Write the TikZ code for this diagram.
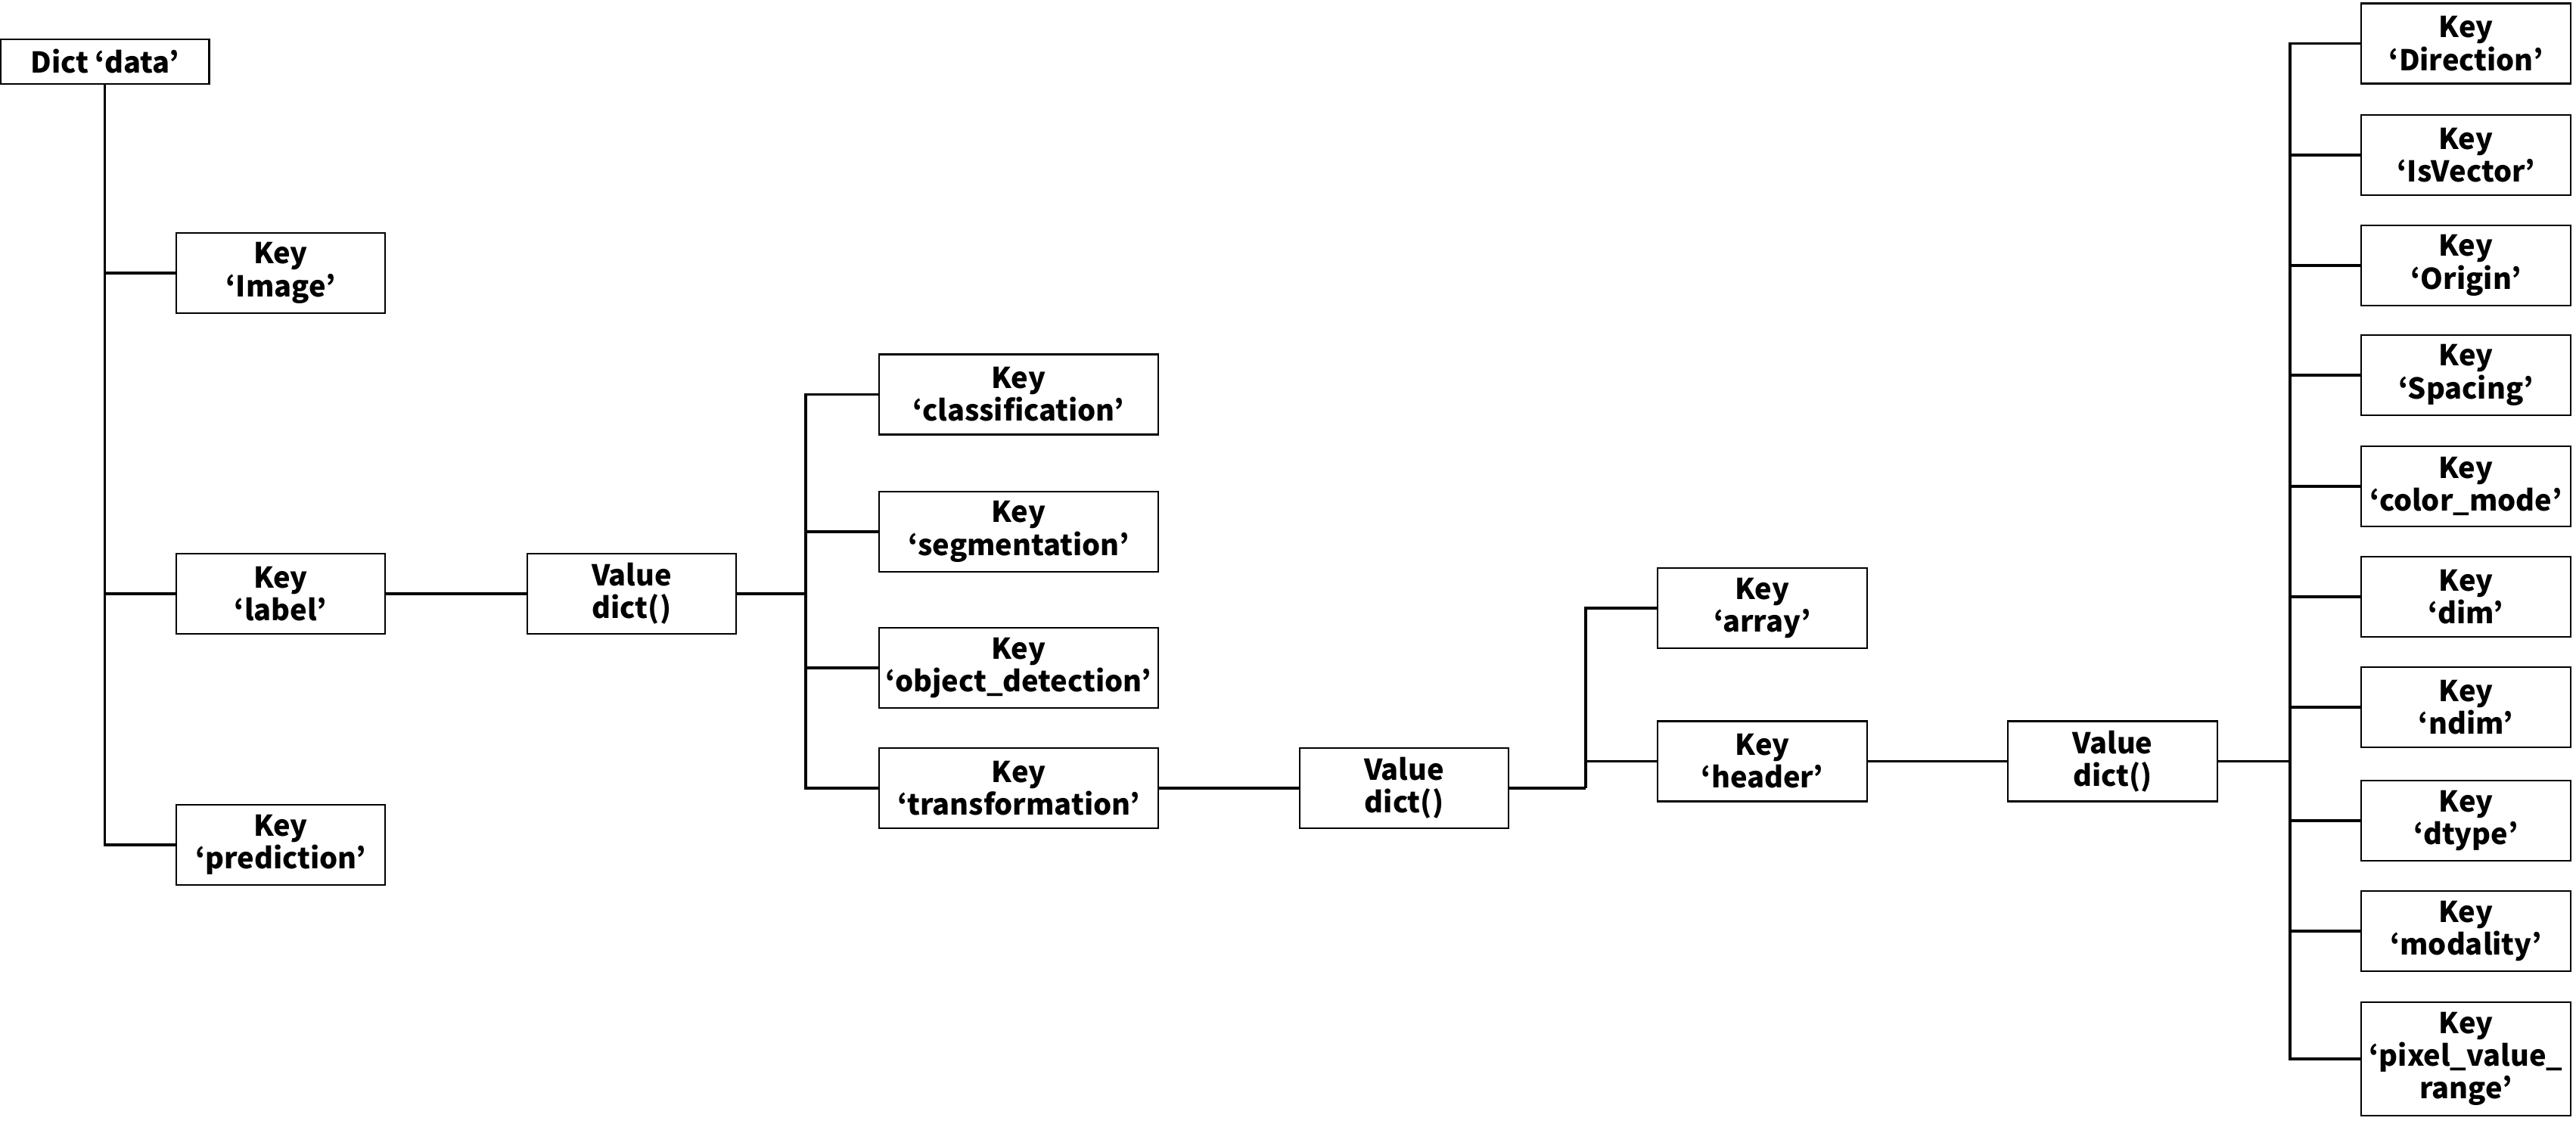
\documentclass[tikz,border=0pt]{standalone}
\usepackage{fontspec}
\setmainfont{Noto Sans CJK KR}
\begin{document}
\begin{tikzpicture}[x=1cm,y=1cm,
  box/.style={draw=black, line width=0.7pt, minimum width=2.76cm, minimum height=1.06cm,
     inner sep=0pt, align=center, font=\fontsize{10.8}{12.3}\selectfont\bfseries},
  link/.style={line width=0.95pt}]
\useasboundingbox (0,0) rectangle (34.05,-14.9);
% column 1
\node[box, minimum height=0.59cm] (data) at (1.385,-0.815) {Dict ‘data’};
\node[box] (image) at (3.71,-3.61) {Key\\‘Image’};
\node[box] (label) at (3.71,-7.85) {Key\\‘label’};
\node[box] (prediction) at (3.71,-11.17) {Key\\‘prediction’};
\node[box] (value1) at (8.35,-7.85) {Value\\dict()};
% column 2
\node[box, minimum width=3.69cm] (classification) at (13.465,-5.215) {Key\\‘classification’};
\node[box, minimum width=3.69cm] (segmentation) at (13.465,-7.03) {Key\\‘segmentation’};
\node[box, minimum width=3.69cm] (objdet) at (13.465,-8.83) {Key\\‘object\_detection’};
\node[box, minimum width=3.69cm] (transformation) at (13.465,-10.42) {Key\\‘transformation’};
\node[box] (value2) at (18.56,-10.42) {Value\\dict()};
% column 3
\node[box, minimum width=2.77cm] (array) at (23.295,-8.04) {Key\\‘array’};
\node[box, minimum width=2.77cm] (header) at (23.295,-10.065) {Key\\‘header’};
\node[box, minimum width=2.77cm] (value3) at (27.925,-10.065) {Value\\dict()};
% column 4
\node[box, minimum width=2.77cm] (k1) at (32.595,-0.577) {Key\\‘Direction’};
\node[box, minimum width=2.77cm] (k2) at (32.595,-2.05) {Key\\‘IsVector’};
\node[box, minimum width=2.77cm] (k3) at (32.595,-3.51) {Key\\‘Origin’};
\node[box, minimum width=2.77cm] (k4) at (32.595,-4.96) {Key\\‘Spacing’};
\node[box, minimum width=2.77cm] (k5) at (32.595,-6.43) {Key\\‘color\_mode’};
\node[box, minimum width=2.77cm] (k6) at (32.595,-7.89) {Key\\‘dim’};
\node[box, minimum width=2.77cm] (k7) at (32.595,-9.35) {Key\\‘ndim’};
\node[box, minimum width=2.77cm] (k8) at (32.595,-10.85) {Key\\‘dtype’};
\node[box, minimum width=2.77cm] (k9) at (32.595,-12.31) {Key\\‘modality’};
\node[box, minimum width=2.77cm, minimum height=1.5cm] (k10) at (32.595,-14.0) {Key\\‘pixel\_value\_\\range’};
% trunk junctions
\coordinate (t2) at (10.65,-7.85);
\coordinate (t3) at (20.96,-10.42);
\coordinate (t4) at (30.27,-10.065);
% connectors column 1
\draw[link] (data.south) -- (data.south |- prediction.west) -- (prediction.west);
\draw[link] (data.south |- image.west) -- (image.west);
\draw[link] (data.south |- label.west) -- (label.west);
\draw[link] (label.east) -- (value1.west);
% column 2
\draw[link] (value1.east) -- (t2);
\draw[link] (classification.west) -- (t2 |- classification.west) -- (t2 |- transformation.west) -- (transformation.west);
\draw[link] (t2 |- segmentation.west) -- (segmentation.west);
\draw[link] (t2 |- objdet.west) -- (objdet.west);
\draw[link] (transformation.east) -- (value2.west);
% column 3
\draw[link] (value2.east) -- (t3);
\draw[link] (t3) -- (t3 |- array.west) -- (array.west);
\draw[link] (t3 |- header.west) -- (header.west);
\draw[link] (header.east) -- (value3.west);
% column 4
\draw[link] (value3.east) -- (t4);
\draw[link] (k1.west) -- (t4 |- k1.west) -- (t4 |- k10.west) -- (k10.west);
\foreach \k in {k2,k3,k4,k5,k6,k7,k8,k9}{
  \draw[link] (t4 |- \k.west) -- (\k.west);
}
\end{tikzpicture}
\end{document}
